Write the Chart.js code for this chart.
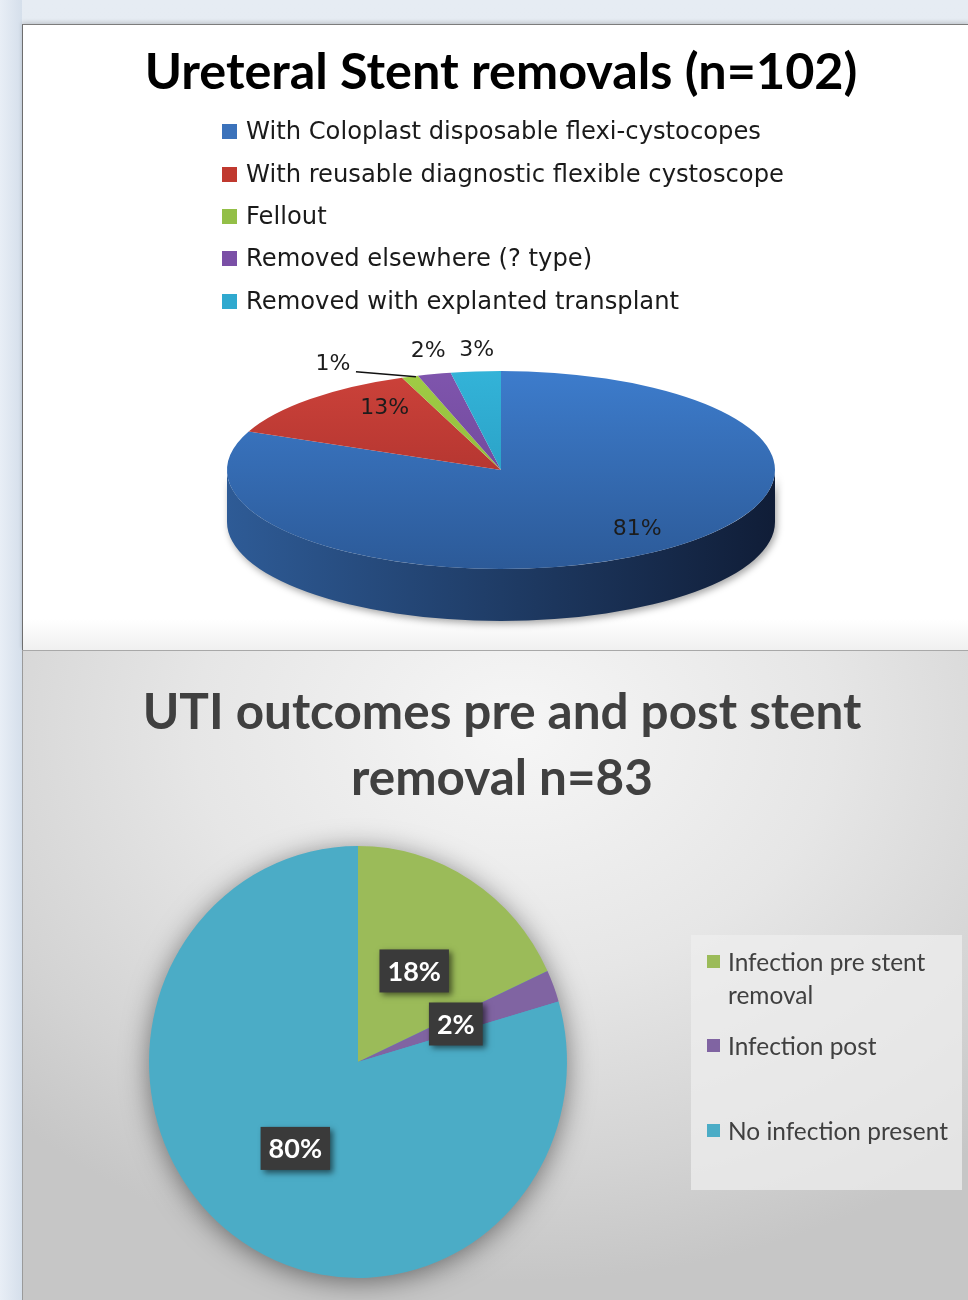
<!DOCTYPE html>
<html><head><meta charset="utf-8">
<script src="https://cdn.jsdelivr.net/npm/chart.js@4.4.1/dist/chart.umd.min.js"></script>
<style>
html,body{margin:0;padding:0}
body{width:968px;height:1300px;position:relative;overflow:hidden;background:linear-gradient(#e6ecf3,#dce4ee);font-family:Lato,"Open Sans",sans-serif}
#leftStrip{position:absolute;left:0;top:0;width:22px;height:1300px;background:linear-gradient(90deg,#e8eef6,#d5dfeb)}
#p1{position:absolute;left:22px;top:24px;width:946px;height:625px;background:linear-gradient(#fff 0,#fff 95%,#f0f0f0 100%);border-top:1px solid #7c7c7c;border-left:1px solid #6e6e6e;box-shadow:0 -2px 4px rgba(0,0,0,0.15)}
#p2{position:absolute;left:22px;top:650px;width:946px;height:650px;border-top:1px solid #a8a8a8;border-left:1px solid #9a9a9a;background:radial-gradient(ellipse 75% 85% at 52% 12%,#f6f6f6 0%,#e6e6e6 45%,#d3d3d3 80%,#c6c6c6 100%)}
canvas{position:absolute;left:0}
.ttl{position:absolute;white-space:nowrap;transform:translate(-50%,-50%);font-weight:700;line-height:1}
.lg1{position:absolute;white-space:nowrap;font-family:"DejaVu Sans",sans-serif;color:#1a1a1a;transform:translateY(-50%);line-height:1}
.sq{position:absolute;width:15px;height:15px}
#lg2{position:absolute;left:691px;top:935px;width:271px;height:255px;background:rgba(238,238,238,0.75)}
.lg2t{position:absolute;white-space:nowrap;color:#404040;line-height:1;transform:translateY(-50%)}
.sq2{position:absolute;width:13px;height:13px}
</style></head>
<body>
<div id="leftStrip"></div>
<div id="p1"></div>
<div id="p2"></div>
<canvas id="c1" width="968" height="648" style="top:0"></canvas>
<canvas id="c2" width="968" height="650" style="top:650px"></canvas>
<div id="t1" class="ttl" style="left:501px;top:70px;color:#000;font-size:45px">Ureteral Stent removals (n=102)</div>
<div id="t2a" class="ttl" style="left:502px;top:711px;color:#404040;font-size:48px">UTI outcomes pre and post stent</div>
<div id="t2b" class="ttl" style="left:502px;top:777px;color:#404040;font-size:48px">removal n=83</div>
<div id="lg2"></div>
<script>
// ---- data ----
const stentCategories = ['With Coloplast disposable flexi-cystocopes','With reusable diagnostic flexible cystoscope','Fellout','Removed elsewhere (? type)','Removed with explanted transplant'];
const stentCounts = [83, 13, 1, 2, 3];
const utiCategories = ['Infection pre stent removal','Infection post','No infection present'];
const utiCounts = [15, 2, 66];

// ---- styles ----
const stentLegendColors = ['#3b72bb','#c0392f','#93bf47','#7a4fa6','#2fa9cf'];
const stentTop = [['#3d7ccc','#2c5a98'],['#cc423a','#a02b28'],['#a0cc45','#86b035'],['#7f55ad','#67408f'],['#33b3d8','#2393b8']];
const stentWall = [['#2e5b96','#1f3c66','#101d37'],['#9a2a26','#7a1f1c','#5a1614'],['#7ea133','#668228','#4d621e'],['#5f3c85','#4b2f69','#38234f'],['#2088a8','#1a6e88','#145468']];
const utiColors = ['#9bbb59','#8064a2','#4bacc6'];

function pct(arr){const s=arr.reduce((a,b)=>a+b,0);return arr.map(v=>Math.round(v/s*100)+'%');}
const stentLabels = pct(stentCounts);
const utiLabels = pct(utiCounts);

// ---- HTML legends ----
const lgY1 = [131,174,216,258,301];
stentCategories.forEach((c,i)=>{
  const sq=document.createElement('div');sq.className='sq';sq.style.left='222px';sq.style.top=(lgY1[i]-7)+'px';sq.style.background=stentLegendColors[i];document.body.appendChild(sq);
  const t=document.createElement('div');t.className='lg1';t.style.left='246px';t.style.top=lgY1[i]+'px';t.style.fontSize='19px';t.textContent=c;t.id='lg1_'+i;document.body.appendChild(t);
});
const lg2Lines = [['Infection pre stent','removal'],['Infection post'],['No infection present']];
const lgY2 = [962,1046,1131];
utiCategories.forEach((c,i)=>{
  const sq=document.createElement('div');sq.className='sq2';sq.style.left='707px';sq.style.top=(lgY2[i]-7)+'px';sq.style.background=utiColors[i];document.body.appendChild(sq);
  lg2Lines[i].forEach((ln,j)=>{
    const t=document.createElement('div');t.className='lg2t';t.style.left='728px';t.style.top=(lgY2[i]+j*33)+'px';t.style.fontSize='24px';t.textContent=ln;if(i===2)t.id='lg2ref';document.body.appendChild(t);
  });
});
function fitW(el,w){const cur=el.getBoundingClientRect().width;const fs=parseFloat(getComputedStyle(el).fontSize);return fs*w/cur;}
document.getElementById('t1').style.fontSize=fitW(document.getElementById('t1'),713)+'px';
const f2=fitW(document.getElementById('t2a'),719);
document.getElementById('t2a').style.fontSize=f2+'px';document.getElementById('t2b').style.fontSize=f2+'px';
const fl1=fitW(document.getElementById('lg1_1'),538);
document.querySelectorAll('.lg1').forEach(e=>e.style.fontSize=fl1+'px');
const fl2=fitW(document.getElementById('lg2ref'),220);
document.querySelectorAll('.lg2t').forEach(e=>e.style.fontSize=fl2+'px');

// ---- 3D pie plugin ----
const pie3d = {
  id:'pie3d',
  beforeDatasetsDraw(chart,args,o){
    const meta=chart.getDatasetMeta(0); if(!meta.data.length) return;
    const a=meta.data[0]; const cx=a.x, cy=a.y, R=a.outerRadius;
    const k=o.ry/R, ty=o.cy, d=o.depth, ctx=chart.ctx;
    ctx.save();
    meta.data.forEach((arc,i)=>{
      const s=Math.max(arc.startAngle,0), e=Math.min(arc.endAngle,Math.PI);
      if(e<=s) return;
      const g=ctx.createLinearGradient(cx-R,0,cx+R,0);
      const w=stentWall[i]; g.addColorStop(0,w[0]); g.addColorStop(0.5,w[1]); g.addColorStop(1,w[2]);
      ctx.beginPath();
      ctx.ellipse(cx,ty,R,R*k,0,s,e,false);
      ctx.ellipse(cx,ty+d,R,R*k,0,e,s,true);
      ctx.closePath();
      ctx.shadowColor='rgba(0,0,0,0.35)';ctx.shadowBlur=7;ctx.shadowOffsetX=2;ctx.shadowOffsetY=3;
      ctx.fillStyle=g; ctx.fill();
    });
    ctx.restore();
    ctx.save();
    ctx.translate(cx,ty); ctx.scale(1,k); ctx.translate(-cx,-cy);
  },
  afterDatasetsDraw(chart,args,o){
    const ctx=chart.ctx; ctx.restore();
    const meta=chart.getDatasetMeta(0); const a=meta.data[0];
    const cx=a.x, R=a.outerRadius, k=o.ry/R, ty=o.cy;
    ctx.save();
    ctx.font='22px "DejaVu Sans"'; ctx.fillStyle='#1c1c1c'; ctx.textAlign='center'; ctx.textBaseline='middle';
    meta.data.forEach((arc,i)=>{
      const m=(arc.startAngle+arc.endAngle)/2; const P=o.place[i];
      const ex=cx+R*Math.cos(m), ey=ty+R*k*Math.sin(m);
      let x,y;
      if(P.in){x=cx+P.f*R*Math.cos(m); y=ty+P.g*R*k*Math.sin(m);}
      else{x=ex+P.dx; y=ey+P.dy;
        if(P.line){ctx.beginPath();ctx.strokeStyle='#111';ctx.lineWidth=1.5;ctx.moveTo(x+23,y+7);ctx.lineTo(ex+6,ey);ctx.stroke();}
      }
      ctx.fillText(stentLabels[i],x,y);
    });
    ctx.restore();
  }
};

new Chart(document.getElementById('c1'),{
  type:'pie',
  data:{labels:stentCategories,datasets:[{data:stentCounts,borderWidth:0,clip:false,
    backgroundColor:(c)=>{const ch=c.chart,ar=ch.chartArea;const t=stentTop[c.dataIndex];if(!ar)return t[0];
      const g=ch.ctx.createLinearGradient(0,ar.top,0,ar.bottom);g.addColorStop(0,t[0]);g.addColorStop(1,t[1]);return g;}}]},
  options:{responsive:false,animation:false,events:[],
    layout:{padding:{left:227,right:193,top:50,bottom:50}},
    plugins:{legend:{display:false},tooltip:{enabled:false},
      pie3d:{cy:470,ry:99,depth:52,place:[{in:true,f:0.9,g:0.72},{in:true,f:0.61,g:0.87},{dx:-77,dy:-12,line:true},{dx:-6,dy:-23},{dx:1,dy:-21}]}}},
  plugins:[pie3d]
});

// ---- 2D pie plugin ----
const pieFlat = {
  id:'pieFlat',
  beforeDatasetsDraw(chart,args,o){
    const meta=chart.getDatasetMeta(0); if(!meta.data.length) return;
    const a=meta.data[0]; const cx=a.x, cy=a.y, R=a.outerRadius, k=o.ry/R, ctx=chart.ctx;
    ctx.save();
    ctx.shadowColor='rgba(0,0,0,0.5)';ctx.shadowBlur=28;ctx.shadowOffsetX=0;ctx.shadowOffsetY=4;
    ctx.beginPath();ctx.ellipse(cx,cy,R-1,R*k-1,0,0,Math.PI*2);ctx.fillStyle=utiColors[2];ctx.fill();
    ctx.restore();
    ctx.save();
    ctx.translate(cx,cy); ctx.scale(1,k); ctx.translate(-cx,-cy);
  },
  afterDatasetsDraw(chart,args,o){
    const ctx=chart.ctx; ctx.restore();
    const meta=chart.getDatasetMeta(0); const a=meta.data[0];
    const cx=a.x, cy=a.y, R=a.outerRadius, k=o.ry/R;
    ctx.save();
    ctx.font='bold 27px Lato'; ctx.textAlign='center'; ctx.textBaseline='middle';
    meta.data.forEach((arc,i)=>{
      const m=(arc.startAngle+arc.endAngle)/2;
      const x=cx+0.5*R*Math.cos(m), y=cy+0.5*R*k*Math.sin(m);
      const tw=ctx.measureText(utiLabels[i]).width; const bw=tw+16, bh=43;
      ctx.save();
      ctx.shadowColor='rgba(0,0,0,0.55)';ctx.shadowBlur=6;ctx.shadowOffsetX=3;ctx.shadowOffsetY=3;
      ctx.fillStyle='#3a3a3a'; ctx.fillRect(x-bw/2,y-bh/2,bw,bh);
      ctx.restore();
      ctx.fillStyle='#ffffff'; ctx.fillText(utiLabels[i],x,y+1);
    });
    ctx.restore();
  }
};

new Chart(document.getElementById('c2'),{
  type:'pie',
  data:{labels:utiCategories,datasets:[{data:utiCounts,backgroundColor:utiColors,borderWidth:0,clip:false}]},
  options:{responsive:false,animation:false,events:[],
    layout:{padding:{left:149,right:401,top:203,bottom:29}},
    plugins:{legend:{display:false},tooltip:{enabled:false},pieFlat:{ry:216}}},
  plugins:[pieFlat]
});
</script>
</body></html>
